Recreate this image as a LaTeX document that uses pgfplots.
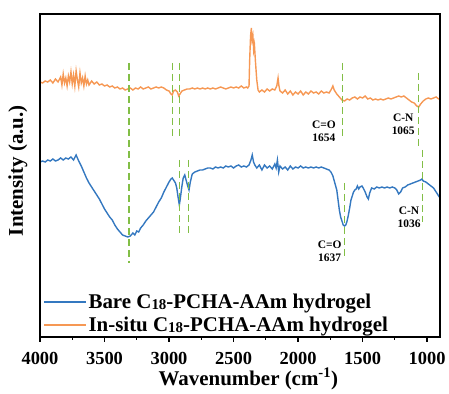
\documentclass[border=0pt]{standalone}
\usepackage{pgfplots}
\pgfplotsset{compat=1.18}
\usepackage{fontspec}
\setmainfont{Liberation Serif}
\definecolor{cblue}{RGB}{52,120,192}
\definecolor{corange}{RGB}{246,152,84}
\definecolor{cgreen}{RGB}{130,190,70}
\newcommand{\sub}[1]{{\fontsize{15}{15}\selectfont\raisebox{-1pt}{#1}}}
\begin{document}
\begin{tikzpicture}
\begin{axis}[
 width=400bp, height=323bp, scale only axis,
 clip=false,
 x dir=reverse, xmin=900, xmax=4000, ymin=53, ymax=376,
 xtick={1000,1500,...,4000}, minor xtick={1250,1750,...,3750},
 ytick=\empty,
 tick align=outside, xtick pos=lower,
 major tick length=5bp, minor tick length=3bp,
 every tick/.style={black, line width=1.2bp},
 axis line style={black, line width=1.5bp},
 /pgf/number format/assume math mode=true,
 /pgf/number format/1000 sep={},
 xticklabel style={font=\fontsize{18.5}{20}\selectfont\bfseries, yshift=-7bp},
 xlabel={Wavenumber (cm\textsuperscript{-1})},
 ylabel={Intensity (a.u.)},
 xlabel style={font=\fontsize{21}{23}\selectfont\bfseries, at={(axis description cs:0.521,-0.13)}, anchor=center},
 ylabel style={font=\fontsize{21}{23}\selectfont\bfseries, at={(axis description cs:-0.055,0.515)}, anchor=center},
 legend style={draw=none, fill=none, at={(axis description cs:0.0,0.0)}, anchor=south west,
   font=\fontsize{21}{23}\selectfont\bfseries, row sep=3bp},
 legend cell align=left,
 legend image code/.code={\path (0bp,0bp) -- (42bp,0bp); \draw[#1, line width=1.6bp] (2bp,0bp) -- (38bp,0bp);},
]
\addplot[cblue, line width=1.4bp] coordinates {
(4000,228)(3980,229)(3960,228)(3940,230)(3920,229)(3900,231)(3880,229)(3860,230)(3840,232)(3820,230)
(3800,232)(3780,231)(3760,233)(3740,230)(3720,235)(3710,232)(3700,229)(3680,224)(3660,218)(3640,212)
(3620,207)(3600,203)(3580,199)(3560,195)(3540,191)(3520,186)(3500,181)(3480,177)(3460,173)(3440,170)
(3420,165)(3400,161)(3380,158)(3360,155)(3340,154)(3320,153)(3300,154)(3280,157)(3265,155)(3250,159)
(3235,158)(3220,162)(3200,165)(3180,169)(3160,172)(3140,175)(3120,178)(3100,183)(3080,188)(3060,192)
(3040,198)(3020,203)(3000,208)(2985,211)(2975,212)(2965,210)(2950,207)(2940,202)(2930,193)(2920,185)
(2912,192)(2900,204)(2890,212)(2878,215)(2868,210)(2855,204)(2845,200)(2835,208)(2820,216)(2800,218)
(2780,219)(2760,220)(2740,220)(2720,221)(2700,222)(2680,222)(2660,221)(2640,223)(2620,222)(2600,223)
(2580,222)(2560,224)(2540,223)(2520,224)(2500,222)(2480,224)(2460,225)(2440,223)(2420,224)(2400,223)
(2380,225)(2365,230)(2355,235)(2345,228)(2335,225)(2320,222)(2300,225)(2280,220)(2260,225)(2240,222)
(2220,224)(2200,221)(2180,226)(2170,222)(2160,230)(2150,218)(2140,224)(2120,221)(2100,223)(2080,220)
(2060,224)(2040,221)(2020,223)(2000,222)(1980,224)(1960,222)(1940,223)(1920,222)(1900,223)(1880,222)
(1860,223)(1840,222)(1820,223)(1800,222)(1780,221)(1760,220)(1745,218)(1730,214)(1715,207)(1700,200)
(1690,190)(1680,180)(1670,173)(1660,169)(1650,165)(1640,164)(1630,165)(1620,169)(1610,175)(1600,182)
(1590,190)(1580,194)(1570,198)(1560,200)(1550,201)(1540,204)(1530,201)(1520,203)(1505,204)(1495,202)
(1480,198)(1465,193)(1455,191)(1445,197)(1430,202)(1410,201)(1390,203)(1370,202)(1350,203)(1330,202)
(1310,203)(1290,202)(1270,203)(1250,202)(1235,200)(1220,196)(1205,198)(1190,202)(1170,203)(1150,205)
(1130,206)(1110,207)(1090,208)(1070,209)(1050,210)(1040,211)(1030,209)(1010,208)(990,206)(970,204)
(950,202)(930,198)(910,194)(900,192)
};
\addlegendentry{Bare C\sub{18}-PCHA-AAm hydrogel}
\addplot[corange, line width=1.4bp] coordinates {
(4000,308)(3980,307)(3960,309)(3940,308)(3920,310)(3900,307)(3880,311)(3860,308)(3840,313)(3830,305)
(3820,316)(3810,307)(3800,312)(3790,304)(3780,314)(3770,308)(3760,318)(3750,306)(3740,315)(3730,304)
(3720,319)(3710,310)(3700,303)(3690,317)(3680,307)(3670,312)(3660,304)(3650,314)(3640,306)(3630,310)
(3620,305)(3600,309)(3580,306)(3560,308)(3540,305)(3520,306)(3500,304)(3480,305)(3460,303)(3440,304)
(3420,302)(3400,303)(3380,301)(3360,302)(3340,300)(3320,301)(3300,302)(3280,300)(3260,302)(3240,301)
(3220,303)(3200,301)(3180,302)(3160,303)(3140,301)(3120,302)(3100,303)(3080,302)(3060,303)(3040,302)
(3020,300)(3000,299)(2985,296)(2975,295)(2965,299)(2950,300)(2935,298)(2925,294)(2915,296)(2900,299)
(2880,300)(2860,301)(2840,301)(2820,302)(2800,301)(2780,302)(2760,301)(2740,302)(2720,301)(2700,302)
(2680,301)(2660,302)(2640,301)(2620,302)(2600,303)(2580,302)(2560,301)(2540,302)(2520,303)(2500,302)
(2480,303)(2460,302)(2440,304)(2420,302)(2400,303)(2390,302)(2380,304)(2375,330)(2368,354)(2362,362)
(2356,350)(2350,354)(2344,340)(2338,345)(2330,328)(2320,310)(2310,300)(2300,298)(2280,300)(2260,298)
(2240,301)(2220,299)(2200,301)(2180,300)(2165,304)(2155,312)(2148,304)(2140,299)(2120,297)(2100,300)
(2080,296)(2060,299)(2040,295)(2020,298)(2000,296)(1980,299)(1960,295)(1940,298)(1920,296)(1900,299)
(1880,297)(1860,298)(1840,296)(1820,299)(1800,297)(1780,298)(1760,297)(1745,300)(1730,304)(1720,300)
(1700,296)(1680,293)(1660,290)(1640,289)(1620,291)(1600,290)(1580,292)(1560,293)(1540,291)(1520,293)
(1500,292)(1480,294)(1460,291)(1440,292)(1420,290)(1400,291)(1380,290)(1360,291)(1340,290)(1320,291)
(1300,292)(1280,291)(1260,292)(1240,293)(1220,294)(1200,293)(1180,294)(1160,292)(1140,290)(1120,288)
(1100,287)(1080,284)(1065,283)(1050,286)(1030,289)(1010,291)(990,292)(970,291)(950,292)(930,293)
(910,291)(900,291)
};
\addlegendentry{In-situ C\sub{18}-PCHA-AAm hydrogel}
\pgfplotsset{every axis plot/.append style={forget plot}}
\addplot[cgreen, line width=1.2bp, dash pattern=on 7bp off 4bp] coordinates {(3310,327)(3310,127)};
\addplot[cgreen, line width=1.2bp, dash pattern=on 7bp off 4bp] coordinates {(2970,327)(2970,252)};
\addplot[cgreen, line width=1.2bp, dash pattern=on 7bp off 4bp] coordinates {(2920,327)(2920,252)};
\addplot[cgreen, line width=1.2bp, dash pattern=on 7bp off 4bp] coordinates {(2920,230)(2920,155)};
\addplot[cgreen, line width=1.2bp, dash pattern=on 7bp off 4bp] coordinates {(2850,230)(2850,155)};
\addplot[cgreen, line width=1.2bp, dash pattern=on 7bp off 4bp] coordinates {(1654,327)(1654,252)};
\addplot[cgreen, line width=1.2bp, dash pattern=on 7bp off 4bp] coordinates {(1637,207)(1637,133)};
\addplot[cgreen, line width=1.2bp, dash pattern=on 7bp off 4bp] coordinates {(1065,317)(1065,243)};
\addplot[cgreen, line width=1.2bp, dash pattern=on 7bp off 4bp] coordinates {(1036,240)(1036,168)};
\node[font=\fontsize{11.5}{13}\selectfont\bfseries, align=center] at (axis cs:1800,258.5) {C=O\\1654};
\node[font=\fontsize{11.5}{13}\selectfont\bfseries, align=center] at (axis cs:1185,266) {C-N\\1065};
\node[font=\fontsize{11.5}{13}\selectfont\bfseries, align=center] at (axis cs:1140,173) {C-N\\1036};
\node[font=\fontsize{11.5}{13}\selectfont\bfseries, align=center] at (axis cs:1755,138.5) {C=O\\1637};
\draw[black, line width=1.5bp] (rel axis cs:0,0) rectangle (rel axis cs:1,1);
\end{axis}
\path[use as bounding box] (-40bp,-53bp) rectangle (409bp,337bp);
\end{tikzpicture}
\end{document}
